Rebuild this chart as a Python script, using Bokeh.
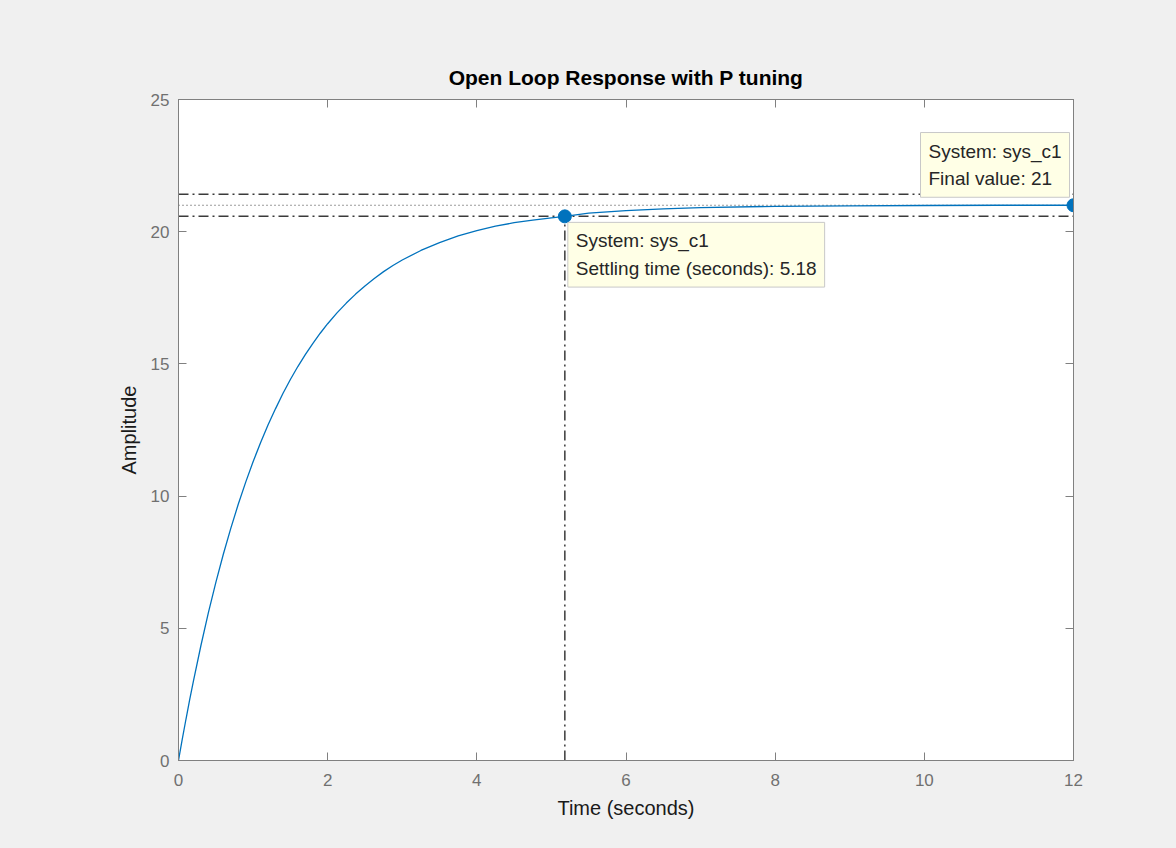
import re
from bokeh.plotting import figure
from bokeh.models import LinearAxis, Label, FixedTicker, ColumnDataSource, CustomJSTickFormatter
from bokeh.embed import file_html
from bokeh.resources import INLINE

# ---- data ----
time = [0.0, 0.05, 0.1, 0.15, 0.2, 0.3, 0.4, 0.5, 0.6, 0.7, 0.8, 0.9, 1.0, 1.1, 1.2,
        1.3, 1.4, 1.5, 1.6, 1.7, 1.8, 1.9, 2.0, 2.125, 2.25, 2.375, 2.5, 2.625,
        2.75, 2.875, 3.0, 3.25, 3.5, 3.75, 4.0, 4.25, 4.5, 4.75, 5.0, 5.18, 5.5,
        6.0, 6.5, 7.0, 8.0, 9.0, 10.0, 11.0, 12.0]
amplitude = [0.0, 0.80, 1.56, 2.30, 3.00, 4.34, 5.58, 6.73, 7.79, 8.77, 9.68, 10.52,
             11.30, 12.02, 12.69, 13.30, 13.88, 14.41, 14.90, 15.35, 15.77, 16.16,
             16.52, 16.93, 17.30, 17.64, 17.95, 18.23, 18.49, 18.72, 18.93, 19.29,
             19.59, 19.84, 20.04, 20.21, 20.34, 20.44, 20.52, 20.58, 20.70, 20.80,
             20.86, 20.91, 20.96, 20.98, 20.99, 21.0, 21.0]
settling_time = 5.18
settling_value = 20.58
final_time = 12.0
final_value = 21.0
band_upper = 21.42
band_lower = 20.58
x_ticks = [0, 2, 4, 6, 8, 10, 12]
y_ticks = [0, 5, 10, 15, 20, 25]
title_text = "Open Loop Response with P tuning"
x_label = "Time (seconds)"
y_label = "Amplitude"
tip1_text = "System: sys_c1\nSettling time (seconds): " + str(settling_time)
tip2_text = "System: sys_c1\nFinal value: " + str(int(final_value))

FONT = "Liberation Sans"
BG = "#f0f0f0"
AX = "#808080"
LINE_BLUE = "#0072bd"
REF = "#3a3a3a"

p = figure(frame_width=895, frame_height=661,
           x_range=(0, 12), y_range=(0, 25),
           output_backend="svg", toolbar_location=None,
           min_border_left=178, min_border_right=95,
           min_border_top=99, min_border_bottom=82,
           background_fill_color="white", border_fill_color=BG)
p.grid.visible = False
p.outline_line_color = AX
p.outline_line_width = 1

# Title
p.title.text = title_text
p.title.align = "center"
p.title.text_font = FONT
p.title.text_font_size = "21px"
p.title.text_font_style = "bold"
p.title.text_color = "#000000"
p.title.standoff = 21

def style_axis(ax, ticks, labels=True):
    ax.ticker = FixedTicker(ticks=ticks)
    ax.axis_line_color = AX
    ax.major_tick_line_color = AX
    ax.major_tick_in = 8
    ax.major_tick_out = 0
    ax.minor_tick_line_color = None
    if labels:
        ax.major_label_text_font = FONT
        ax.major_label_text_font_size = "17px"
        ax.major_label_text_color = "#707070"
        ax.axis_label_text_font = FONT
        ax.axis_label_text_font_size = "20px"
        ax.axis_label_text_font_style = "normal"
        ax.axis_label_text_color = "#1a1a1a"
    else:
        ax.formatter = CustomJSTickFormatter(code="return '';")
        ax.major_label_text_font_size = "1px"
        ax.major_label_standoff = 0
        ax.axis_label = None

xaxis = p.xaxis[0]
yaxis = p.yaxis[0]
top_axis = LinearAxis()
right_axis = LinearAxis()
p.add_layout(top_axis, "above")
p.add_layout(right_axis, "right")

xaxis.axis_label = x_label
yaxis.axis_label = y_label
style_axis(xaxis, x_ticks)
style_axis(yaxis, y_ticks)
style_axis(top_axis, x_ticks, labels=False)
style_axis(right_axis, y_ticks, labels=False)
xaxis.major_label_standoff = 13
xaxis.axis_label_standoff = 8
yaxis.major_label_standoff = 9
yaxis.axis_label_standoff = 8

# Reference lines (settling band, final value, settling time)
p.segment(x0=[0, 0], y0=[band_upper, band_lower], x1=[final_time, final_time],
          y1=[band_upper, band_lower], line_color=REF, line_width=1.5,
          line_dash="10 4 2 4")
p.segment(x0=[0], y0=[final_value], x1=[final_time], y1=[final_value],
          line_color=REF, line_width=1.2, line_dash="1 3")
p.segment(x0=[settling_time], y0=[0], x1=[settling_time], y1=[settling_value],
          line_color=REF, line_width=1.5, line_dash="10 4 2 4")

# Step response
src = ColumnDataSource(dict(t=time, y=amplitude))
p.line("t", "y", source=src, line_color=LINE_BLUE, line_width=1.3)

# Data tip markers
p.scatter(x=[settling_time, final_time], y=[settling_value, final_value],
          size=13, fill_color=LINE_BLUE, line_color=LINE_BLUE)

# Data tips
tip_style = dict(text_font=FONT, text_font_size="19px", text_color="#262626",
                 text_line_height=1.32, background_fill_color="#ffffe6",
                 border_line_color="#c8c8c8", border_line_width=1, padding=8)
p.add_layout(Label(x=settling_time, y=settling_value, text=tip1_text,
                   x_offset=3, y_offset=-6, text_align="left",
                   text_baseline="top", **tip_style))
p.add_layout(Label(x=final_time, y=final_value, text=tip2_text,
                   x_offset=-153, y_offset=8, text_align="left",
                   text_baseline="bottom", **tip_style))

html = file_html(p, INLINE)
html = re.sub(r"<html([^>]*)>", r'<html\1 style="background-color:#f0f0f0;">', html, count=1)
html = re.sub(r"<body[^>]*>", '<body style="background-color:#f0f0f0;">', html, count=1)
open("out.html", "w").write(html)
